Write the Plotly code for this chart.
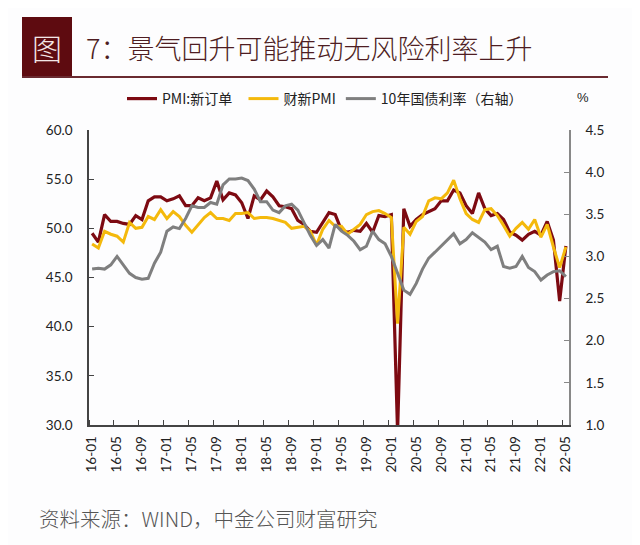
import plotly.graph_objects as go

# monthly, 2016-01 .. 2022-05
months = [f"{y:02d}-{m:02d}" for y in range(16, 23) for m in range(1, 13)][:77]

pmi_new_orders = [
    49.5, 48.6, 51.4, 50.7, 50.7, 50.5, 50.4, 51.3, 50.9, 52.8, 53.2, 53.2,
    52.8, 53.0, 53.3, 52.3, 52.3, 53.1, 52.8, 53.1, 54.8, 52.9, 53.6, 53.4,
    52.6, 51.0, 53.3, 52.9, 53.8, 53.2, 52.3, 52.2, 52.0, 50.8, 50.4, 49.7,
    49.6, 50.6, 51.6, 51.4, 49.8, 49.6, 49.8, 49.7, 50.5, 49.6, 51.3, 51.2,
    51.4, 29.3, 52.0, 50.2, 50.9, 51.4, 51.7, 52.0, 52.8, 52.8, 53.9, 53.6,
    52.3, 51.5, 53.6, 52.0, 51.3, 51.5, 50.9, 49.6, 49.3, 48.8, 49.4, 49.7,
    49.3, 50.7, 48.8, 42.6, 48.2,
]

caixin_pmi = [
    48.4, 48.0, 49.7, 49.4, 49.2, 48.6, 50.6, 50.0, 50.1, 51.2, 50.9, 51.9,
    51.0, 51.7, 51.2, 50.3, 49.6, 50.4, 51.1, 51.6, 51.0, 51.0, 50.8, 51.5,
    51.5, 51.6, 51.0, 51.1, 51.1, 51.0, 50.8, 50.6, 50.0, 50.1, 50.2, 49.7,
    48.3, 49.9, 50.8, 50.2, 50.2, 49.4, 49.9, 50.4, 51.4, 51.7, 51.8, 51.5,
    51.1, 40.3, 50.1, 49.4, 50.7, 51.2, 52.8, 53.1, 53.0, 53.6, 54.9, 53.0,
    51.5, 50.9, 50.6, 51.9, 52.0, 51.3, 50.3, 49.2, 50.0, 50.6, 49.9, 50.9,
    49.1, 50.4, 48.1, 46.0, 48.1,
]

cgb_10y = [
    2.85, 2.86, 2.85, 2.90, 3.00, 2.90, 2.80, 2.75, 2.73, 2.74, 2.92, 3.05,
    3.30, 3.35, 3.33, 3.45, 3.60, 3.58, 3.58, 3.64, 3.62, 3.85, 3.92, 3.92,
    3.93, 3.90, 3.80, 3.65, 3.65, 3.55, 3.52, 3.60, 3.62, 3.55, 3.40, 3.25,
    3.13, 3.20, 3.10, 3.38, 3.30, 3.25, 3.18, 3.08, 3.12, 3.30, 3.20, 3.15,
    3.00, 2.80, 2.60, 2.55, 2.68, 2.85, 2.98, 3.05, 3.12, 3.20, 3.27, 3.15,
    3.20, 3.28, 3.22, 3.17, 3.08, 3.12, 2.88, 2.86, 2.88, 3.00, 2.87, 2.82,
    2.72, 2.78, 2.82, 2.83, 2.76,
]

label_idx = list(range(0, 77, 4))
label_text = [months[i] for i in label_idx]

# plot area as seen on the page: x 89..569, y 130..425
# (the page body adds an 8px margin, so the figure margins are 8px smaller)
L, R, T, B = 89, 569, 130, 425
OFF = 8


def px(x):
    return (x - L) / (R - L)


def py(y):
    return (B - y) / (B - T)


nb = "\u00a0"
x = list(range(len(months)))
fig = go.Figure()
fig.add_trace(go.Scatter(x=x, y=pmi_new_orders, name="PMI:新订单" + nb * 2, mode="lines",
                         line=dict(color="#7d0a12", width=3.2)))
fig.add_trace(go.Scatter(x=x, y=caixin_pmi, name="财新PMI", mode="lines",
                         line=dict(color="#f4b90c", width=3)))
fig.add_trace(go.Scatter(x=x, y=cgb_10y, name="10年国债利率（右轴）", mode="lines",
                         line=dict(color="#7f7f7f", width=3), yaxis="y2"))

tick_font = dict(family="Lato, Liberation Sans, sans-serif", size=13.5, color="#222")

fig.update_layout(
    width=640, height=545,
    margin=dict(l=L - OFF, r=640 - R + OFF, t=T - OFF, b=545 - B + OFF),
    paper_bgcolor="#fdfdfe", plot_bgcolor="#fdfdfe",
    showlegend=True,
    legend=dict(orientation="h", x=px(122), xanchor="left", y=py(99), yanchor="middle",
                font=dict(family="Noto Sans CJK SC, sans-serif", size=14, color="#222"),
                bgcolor="rgba(0,0,0,0)", itemwidth=30, tracegroupgap=0),
    xaxis=dict(range=[-0.5, 76.5], tickmode="array", tickvals=label_idx,
               ticktext=label_text, tickangle=-90, ticks="", tickfont=tick_font,
               showgrid=False, zeroline=False, showline=True, linecolor="#444",
               linewidth=1.5, ticklabelstandoff=4,
               minor=dict(tickmode="array", tickvals=[i - 0.5 for i in label_idx],
                          ticks="inside", ticklen=5, tickcolor="#444", showgrid=False)),
    yaxis=dict(range=[30, 60], tickvals=[30, 35, 40, 45, 50, 55, 60], tickformat=".1f",
               ticks="inside", ticklen=5, tickcolor="#444", tickfont=tick_font,
               showgrid=False, zeroline=False, showline=True, linecolor="#444",
               linewidth=1.5, ticklabelstandoff=12),
    yaxis2=dict(range=[1.0, 4.5], tickvals=[1.0, 1.5, 2.0, 2.5, 3.0, 3.5, 4.0, 4.5],
                tickformat=".1f", overlaying="y", side="right",
                ticks="inside", ticklen=5, tickcolor="#888", tickfont=tick_font,
                showgrid=False, zeroline=False, showline=True, linecolor="#888",
                linewidth=1.5, ticklabelstandoff=12),
)

# title block
fig.add_shape(type="rect", xref="paper", yref="paper",
              x0=px(22), x1=px(72), y0=py(77), y1=py(17),
              fillcolor="#5e0b10", line=dict(width=0))
fig.add_shape(type="line", xref="paper", yref="paper",
              x0=px(22), x1=px(608), y0=py(77), y1=py(77),
              line=dict(color="#6a2a30", width=2))
fig.add_annotation(xref="paper", yref="paper", x=px(47), y=py(47), text="图",
                   showarrow=False, xanchor="center", yanchor="middle",
                   font=dict(family="Noto Sans CJK SC", size=30, color="#f3e6e6",
                             weight=300))
fig.add_annotation(xref="paper", yref="paper", x=px(84), y=py(47),
                   text="7：景气回升可能推动无风险利率上升",
                   showarrow=False, xanchor="left", yanchor="middle",
                   font=dict(family="Noto Sans CJK SC", size=27, color="#4e1d22",
                             weight=300))
fig.add_annotation(xref="paper", yref="paper", x=px(583), y=py(97), text="%",
                   showarrow=False, xanchor="center", yanchor="middle",
                   font=dict(family="Liberation Sans", size=13, color="#222"))
fig.add_annotation(xref="paper", yref="paper", x=px(37), y=py(518),
                   text="资料来源：WIND，中金公司财富研究",
                   showarrow=False, xanchor="left", yanchor="middle",
                   font=dict(family="Noto Sans CJK SC", size=20.5, color="#555",
                             weight=300))

fig.write_html("out.html")
